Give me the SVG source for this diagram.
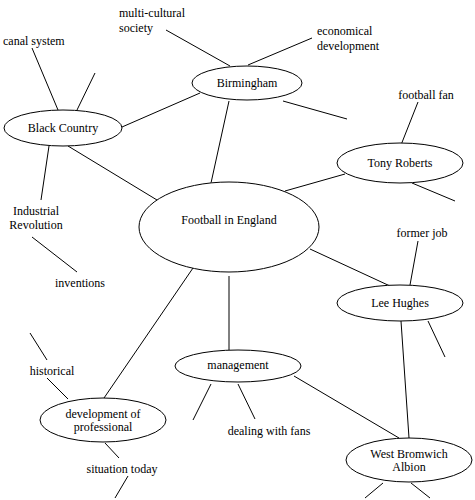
<svg xmlns="http://www.w3.org/2000/svg" width="475" height="500" viewBox="0 0 475 500" font-family="'Liberation Serif', 'Times New Roman', serif" font-size="12">
<style>
.n ellipse{fill:#fff;stroke:#000;stroke-width:1}
text{font-family:'Liberation Serif','Times New Roman',serif;font-size:12px;fill:#000}
.c{text-anchor:middle}
#connectors line{stroke:#000;stroke-width:1}
</style>
<rect width="475" height="500" fill="#fff"/>
<g id="connectors">
<line x1="166" y1="30" x2="230" y2="66"/>
<line x1="248" y1="65" x2="312" y2="38"/>
<line x1="32" y1="48" x2="58" y2="110"/>
<line x1="77" y1="110" x2="95" y2="73"/>
<line x1="122" y1="127" x2="200" y2="93"/>
<line x1="229" y1="101" x2="211" y2="183"/>
<line x1="283" y1="101" x2="347" y2="119"/>
<line x1="49" y1="146" x2="41" y2="200"/>
<line x1="68" y1="146" x2="157" y2="200"/>
<line x1="32" y1="237" x2="77" y2="272"/>
<line x1="418" y1="102" x2="401" y2="145"/>
<line x1="345" y1="174" x2="285" y2="191"/>
<line x1="412" y1="183" x2="455" y2="201"/>
<line x1="418" y1="241" x2="410" y2="285"/>
<line x1="310" y1="249" x2="390" y2="286"/>
<line x1="401" y1="321" x2="409" y2="438"/>
<line x1="428" y1="321" x2="445" y2="357"/>
<line x1="229" y1="276" x2="229" y2="350"/>
<line x1="193" y1="268" x2="104" y2="398"/>
<line x1="30" y1="333" x2="47" y2="360"/>
<line x1="47" y1="378" x2="68" y2="399"/>
<line x1="105" y1="443" x2="119" y2="458"/>
<line x1="128" y1="476" x2="115" y2="498"/>
<line x1="211" y1="384" x2="193" y2="420"/>
<line x1="238" y1="384" x2="255" y2="419"/>
<line x1="294" y1="376" x2="399" y2="438"/>
<line x1="383" y1="483" x2="365" y2="498"/>
<line x1="411" y1="483" x2="430" y2="498"/>
</g>
<g id="birmingham" class="n"><ellipse cx="247" cy="83" rx="55" ry="17"/><text class="c" x="247" y="87">Birmingham</text></g>
<g id="black-country" class="n"><ellipse cx="63" cy="128" rx="59" ry="18"/><text class="c" x="63" y="132">Black Country</text></g>
<g id="tony-roberts" class="n"><ellipse cx="400" cy="163" rx="63" ry="20"/><text class="c" x="400" y="167">Tony Roberts</text></g>
<g id="football" class="n"><ellipse cx="229" cy="227" rx="90" ry="45"/><text class="c" x="229" y="224">Football in England</text></g>
<g id="lee-hughes" class="n"><ellipse cx="400" cy="303" rx="63" ry="18"/><text class="c" x="400" y="307">Lee Hughes</text></g>
<g id="management" class="n"><ellipse cx="238" cy="366" rx="63" ry="16"/><text class="c" x="238" y="369">management</text></g>
<g id="development" class="n"><ellipse cx="103" cy="420" rx="63" ry="22"/><text class="c" x="103" y="418">development of</text><text class="c" x="103" y="431">professional</text></g>
<g id="wba" class="n"><ellipse cx="409" cy="460" rx="63" ry="22"/><text class="c" x="409" y="458">West Bromwich</text><text class="c" x="409" y="471">Albion</text></g>
<g id="labels">
<text x="119" y="17">multi-cultural</text>
<text x="119" y="32">society</text>
<text x="317" y="35">economical</text>
<text x="317" y="50">development</text>
<text x="3" y="45">canal system</text>
<text class="c" x="426" y="99">football fan</text>
<text class="c" x="36" y="215">Industrial</text>
<text class="c" x="36" y="229">Revolution</text>
<text class="c" x="80" y="287">inventions</text>
<text class="c" x="422" y="237">former job</text>
<text class="c" x="52" y="375">historical</text>
<text class="c" x="269" y="435">dealing with fans</text>
<text class="c" x="122" y="473">situation today</text>
</g>
</svg>
